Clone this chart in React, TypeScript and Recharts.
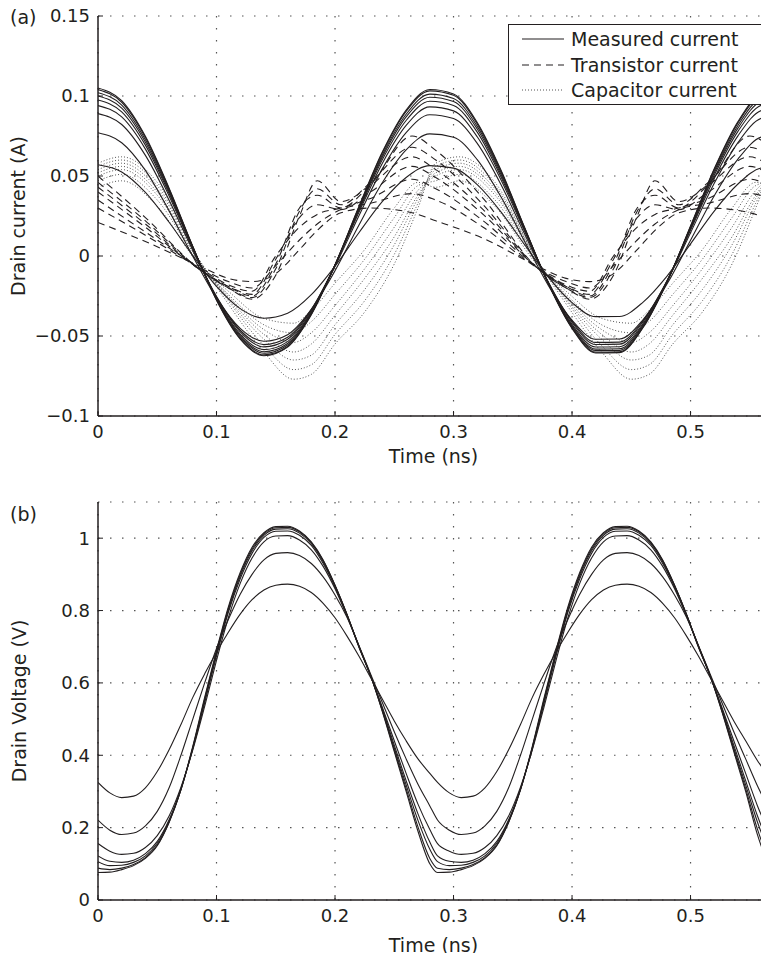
import React from 'react';
import { LineChart, Line, XAxis, YAxis, CartesianGrid, Label } from 'recharts';

const INK = '#231f20';
const FONT = '"DejaVu Sans", Verdana, sans-serif';

// ---- (a) drain current ----
const timeMeasured = [0, 0.02, 0.04, 0.06, 0.08, 0.1, 0.12, 0.14, 0.16, 0.18, 0.2, 0.22, 0.24, 0.26, 0.28, 0.3, 0.32, 0.34, 0.36, 0.38, 0.4, 0.42, 0.44, 0.46, 0.48, 0.5, 0.52, 0.54, 0.56, 0.58];

const measured1 = [0.105, 0.0971, 0.0748, 0.0424, 0.006, -0.0276, -0.0519, -0.0623, -0.0569, -0.0367, -0.0056, 0.0306, 0.0651, 0.0912, 0.1041, 0.1013, 0.0834, 0.0537, 0.0178, -0.0174, -0.0453, -0.0606, -0.0604, -0.0447, -0.0166, 0.0187, 0.0545, 0.084, 0.1016, 0.104];
const measured2 = [0.104, 0.0961, 0.0741, 0.0419, 0.0058, -0.0274, -0.0515, -0.0618, -0.0565, -0.0364, -0.0056, 0.0303, 0.0645, 0.0904, 0.1032, 0.1004, 0.0826, 0.0531, 0.0176, -0.0173, -0.0449, -0.0601, -0.0599, -0.0444, -0.0165, 0.0185, 0.054, 0.0832, 0.1006, 0.103];
const measured3 = [0.102, 0.0943, 0.0726, 0.0411, 0.0056, -0.027, -0.0506, -0.0608, -0.0556, -0.0359, -0.0056, 0.0296, 0.0632, 0.0886, 0.1012, 0.0984, 0.081, 0.0521, 0.0172, -0.0171, -0.0443, -0.0591, -0.059, -0.0437, -0.0163, 0.018, 0.0529, 0.0816, 0.0987, 0.101];
const measured4 = [0.1, 0.0924, 0.0711, 0.0402, 0.0054, -0.0266, -0.0498, -0.0598, -0.0547, -0.0354, -0.0056, 0.029, 0.0619, 0.0869, 0.0992, 0.0965, 0.0794, 0.051, 0.0167, -0.0169, -0.0436, -0.0582, -0.058, -0.043, -0.0162, 0.0176, 0.0518, 0.0799, 0.0968, 0.0991];
const measured5 = [0.0975, 0.0901, 0.0693, 0.0391, 0.0051, -0.0261, -0.0488, -0.0585, -0.0535, -0.0347, -0.0056, 0.0282, 0.0603, 0.0847, 0.0967, 0.0941, 0.0774, 0.0496, 0.0162, -0.0166, -0.0427, -0.0569, -0.0567, -0.0421, -0.0159, 0.017, 0.0504, 0.0779, 0.0943, 0.0966];
const measured6 = [0.094, 0.0869, 0.0668, 0.0375, 0.0047, -0.0255, -0.0474, -0.0568, -0.052, -0.0338, -0.0057, 0.027, 0.058, 0.0816, 0.0932, 0.0907, 0.0745, 0.0477, 0.0154, -0.0163, -0.0415, -0.0553, -0.0551, -0.041, -0.0156, 0.0162, 0.0485, 0.0751, 0.091, 0.0931];
const measured7 = [0.089, 0.0822, 0.0629, 0.0349, 0.0035, -0.0254, -0.0464, -0.0554, -0.0508, -0.0333, -0.0065, 0.0248, 0.0546, 0.0771, 0.0883, 0.0859, 0.0704, 0.0447, 0.0137, -0.0167, -0.0407, -0.054, -0.0538, -0.0403, -0.016, 0.0145, 0.0454, 0.0709, 0.0861, 0.0882];
const measured8 = [0.077, 0.0708, 0.0535, 0.0282, -0.0002, -0.0263, -0.0452, -0.0533, -0.0492, -0.0334, -0.0092, 0.0191, 0.0459, 0.0663, 0.0763, 0.0742, 0.0602, 0.037, 0.0091, -0.0184, -0.0401, -0.052, -0.0519, -0.0397, -0.0177, 0.0098, 0.0377, 0.0606, 0.0744, 0.0762];
const measured9 = [0.057, 0.0525, 0.0397, 0.0211, 0.0002, -0.019, -0.0329, -0.0389, -0.0358, -0.0242, -0.0064, 0.0144, 0.0341, 0.0491, 0.0565, 0.0549, 0.0446, 0.0276, 0.007, -0.0132, -0.0291, -0.0379, -0.0378, -0.0288, -0.0127, 0.0076, 0.0281, 0.045, 0.0551, 0.0564];

const timeTransistor = [0, 0.04, 0.085, 0.11, 0.13, 0.15, 0.17, 0.185, 0.205, 0.23, 0.265, 0.285, 0.325, 0.37, 0.395, 0.415, 0.435, 0.455, 0.47, 0.49, 0.515, 0.55, 0.57];

const transistor1 = [0.05, 0.024, -0.008, -0.02, -0.027, -0.012, 0.025, 0.047, 0.034, 0.045, 0.075, 0.066, 0.036, -0.007, -0.02, -0.027, -0.012, 0.025, 0.047, 0.034, 0.045, 0.075, 0.066];
const transistor2 = [0.046, 0.022, -0.008, -0.02, -0.026, -0.008, 0.028, 0.042, 0.032, 0.046, 0.068, 0.06, 0.032, -0.007, -0.02, -0.026, -0.008, 0.028, 0.042, 0.032, 0.046, 0.068, 0.06];
const transistor3 = [0.043, 0.02, -0.008, -0.019, -0.025, -0.005, 0.03, 0.038, 0.03, 0.044, 0.062, 0.054, 0.029, -0.007, -0.019, -0.025, -0.005, 0.03, 0.038, 0.03, 0.044, 0.062, 0.054];
const transistor4 = [0.04, 0.018, -0.008, -0.019, -0.024, -0.002, 0.024, 0.032, 0.029, 0.04, 0.056, 0.049, 0.026, -0.007, -0.019, -0.024, -0.002, 0.024, 0.032, 0.029, 0.04, 0.056, 0.049];
const transistor5 = [0.035, 0.015, -0.007, -0.018, -0.022, 0.0, 0.018, 0.026, 0.03, 0.036, 0.048, 0.042, 0.022, -0.007, -0.018, -0.022, 0.0, 0.018, 0.026, 0.03, 0.036, 0.048, 0.042];
const transistor6 = [0.03, 0.013, -0.007, -0.016, -0.02, -0.006, 0.01, 0.02, 0.029, 0.033, 0.039, 0.035, 0.018, -0.007, -0.016, -0.02, -0.006, 0.01, 0.02, 0.029, 0.033, 0.039, 0.035];
const transistor7 = [0.021, 0.009, -0.006, -0.014, -0.016, -0.011, 0.004, 0.016, 0.027, 0.03, 0.027, 0.022, 0.011, -0.006, -0.014, -0.016, -0.011, 0.004, 0.016, 0.027, 0.03, 0.027, 0.022];

const timeCapacitor = [0, 0.02, 0.05, 0.085, 0.11, 0.14, 0.165, 0.18, 0.2, 0.225, 0.25, 0.27, 0.285, 0.305, 0.335, 0.37, 0.395, 0.425, 0.45, 0.465, 0.485, 0.51, 0.535, 0.555, 0.57];

const capacitor1 = [0.058, 0.062, 0.046, -0.002, -0.03, -0.06, -0.077, -0.074, -0.055, -0.035, -0.005, 0.03, 0.058, 0.062, 0.046, -0.002, -0.03, -0.06, -0.077, -0.074, -0.055, -0.035, -0.005, 0.03, 0.058];
const capacitor2 = [0.056, 0.06, 0.044, -0.002, -0.028, -0.056, -0.071, -0.068, -0.049, -0.028, 0.001, 0.033, 0.056, 0.06, 0.044, -0.002, -0.028, -0.056, -0.071, -0.068, -0.049, -0.028, 0.001, 0.033, 0.056];
const capacitor3 = [0.054, 0.058, 0.042, -0.002, -0.027, -0.052, -0.065, -0.062, -0.043, -0.021, 0.007, 0.036, 0.054, 0.058, 0.042, -0.002, -0.027, -0.052, -0.065, -0.062, -0.043, -0.021, 0.007, 0.036, 0.054];
const capacitor4 = [0.052, 0.056, 0.04, -0.003, -0.026, -0.049, -0.06, -0.055, -0.037, -0.014, 0.012, 0.038, 0.052, 0.056, 0.04, -0.003, -0.026, -0.049, -0.06, -0.055, -0.037, -0.014, 0.012, 0.038, 0.052];
const capacitor5 = [0.05, 0.054, 0.038, -0.003, -0.025, -0.046, -0.054, -0.048, -0.031, -0.008, 0.018, 0.041, 0.05, 0.054, 0.038, -0.003, -0.025, -0.046, -0.054, -0.048, -0.031, -0.008, 0.018, 0.041, 0.05];
const capacitor6 = [0.047, 0.051, 0.035, -0.004, -0.024, -0.043, -0.048, -0.041, -0.024, -0.002, 0.024, 0.044, 0.047, 0.051, 0.035, -0.004, -0.024, -0.043, -0.048, -0.041, -0.024, -0.002, 0.024, 0.044, 0.047];
const capacitor7 = [0.043, 0.047, 0.031, -0.005, -0.022, -0.039, -0.042, -0.034, -0.017, 0.004, 0.03, 0.046, 0.043, 0.047, 0.031, -0.005, -0.022, -0.039, -0.042, -0.034, -0.017, 0.004, 0.03, 0.046, 0.043];

// ---- (b) drain voltage ----
const timeVoltage = [
  0, 0.01, 0.02, 0.03, 0.04, 0.05, 0.06, 0.07, 0.08, 0.09, 0.1, 0.11, 0.12, 0.13, 0.14, 0.15, 0.16, 0.17, 0.18, 0.19, 0.2, 0.21, 0.22, 0.23, 0.24, 0.25, 0.26, 0.27, 0.28,
  0.2865, 0.2965, 0.3065, 0.3165, 0.3265, 0.3365, 0.3465, 0.3565, 0.3665, 0.3765, 0.3865, 0.3965, 0.4065, 0.4165, 0.4265, 0.4365, 0.4465, 0.4565, 0.4665, 0.4765, 0.4865, 0.4965, 0.5065, 0.5165, 0.5265, 0.5365, 0.5465, 0.5565, 0.5665,
];

const voltage1 = [
  0.076, 0.077, 0.084, 0.095, 0.115, 0.15, 0.215, 0.305, 0.425, 0.56, 0.69, 0.81, 0.905, 0.975, 1.015, 1.032, 1.033, 1.02, 0.99, 0.94, 0.87, 0.79, 0.7, 0.62, 0.52, 0.41, 0.3, 0.19, 0.1,
  0.076, 0.077, 0.084, 0.095, 0.115, 0.15, 0.215, 0.305, 0.425, 0.56, 0.69, 0.81, 0.905, 0.975, 1.015, 1.032, 1.033, 1.02, 0.99, 0.94, 0.87, 0.79, 0.7, 0.62, 0.52, 0.41, 0.3, 0.18, 0.09,
];
const voltage2 = [
  0.088, 0.084, 0.088, 0.098, 0.117, 0.152, 0.215, 0.305, 0.422, 0.555, 0.685, 0.805, 0.9, 0.97, 1.012, 1.029, 1.03, 1.018, 0.988, 0.938, 0.87, 0.79, 0.702, 0.62, 0.522, 0.415, 0.308, 0.202, 0.115,
  0.088, 0.084, 0.088, 0.098, 0.117, 0.152, 0.215, 0.305, 0.422, 0.555, 0.685, 0.805, 0.9, 0.97, 1.012, 1.029, 1.03, 1.018, 0.988, 0.938, 0.87, 0.79, 0.702, 0.62, 0.522, 0.415, 0.308, 0.195, 0.105,
];
const voltage3 = [
  0.106, 0.095, 0.096, 0.104, 0.122, 0.157, 0.218, 0.305, 0.42, 0.55, 0.68, 0.8, 0.895, 0.965, 1.008, 1.025, 1.026, 1.014, 0.985, 0.935, 0.868, 0.79, 0.703, 0.62, 0.525, 0.42, 0.318, 0.22, 0.14,
  0.106, 0.095, 0.096, 0.104, 0.122, 0.157, 0.218, 0.305, 0.42, 0.55, 0.68, 0.8, 0.895, 0.965, 1.008, 1.025, 1.026, 1.014, 0.985, 0.935, 0.868, 0.79, 0.703, 0.62, 0.525, 0.42, 0.318, 0.215, 0.13,
];
const voltage4 = [
  0.122, 0.107, 0.104, 0.11, 0.128, 0.162, 0.222, 0.308, 0.418, 0.545, 0.675, 0.795, 0.888, 0.958, 1.002, 1.019, 1.02, 1.008, 0.98, 0.93, 0.865, 0.788, 0.703, 0.62, 0.528, 0.428, 0.33, 0.238, 0.16,
  0.122, 0.107, 0.104, 0.11, 0.128, 0.162, 0.222, 0.308, 0.418, 0.545, 0.675, 0.795, 0.888, 0.958, 1.002, 1.019, 1.02, 1.008, 0.98, 0.93, 0.865, 0.788, 0.703, 0.62, 0.528, 0.428, 0.33, 0.232, 0.15,
];
const voltage5 = [
  0.156, 0.135, 0.126, 0.129, 0.145, 0.178, 0.232, 0.312, 0.415, 0.535, 0.662, 0.78, 0.875, 0.945, 0.99, 1.006, 1.007, 0.995, 0.968, 0.922, 0.86, 0.785, 0.703, 0.62, 0.532, 0.44, 0.35, 0.265, 0.195,
  0.156, 0.135, 0.126, 0.129, 0.145, 0.178, 0.232, 0.312, 0.415, 0.535, 0.662, 0.78, 0.875, 0.945, 0.99, 1.006, 1.007, 0.995, 0.968, 0.922, 0.86, 0.785, 0.703, 0.62, 0.532, 0.44, 0.35, 0.26, 0.185,
];
const voltage6 = [
  0.221, 0.193, 0.181, 0.185, 0.205, 0.245, 0.31, 0.4, 0.5, 0.6, 0.695, 0.775, 0.845, 0.9, 0.94, 0.958, 0.96, 0.952, 0.93, 0.893, 0.843, 0.782, 0.705, 0.625, 0.545, 0.465, 0.39, 0.32, 0.26,
  0.221, 0.193, 0.181, 0.185, 0.205, 0.245, 0.31, 0.4, 0.5, 0.6, 0.695, 0.775, 0.845, 0.9, 0.94, 0.958, 0.96, 0.952, 0.93, 0.893, 0.843, 0.782, 0.705, 0.625, 0.545, 0.465, 0.39, 0.315, 0.25,
];
const voltage7 = [
  0.325, 0.296, 0.283, 0.287, 0.31, 0.355, 0.415, 0.485, 0.56, 0.625, 0.685, 0.74, 0.79, 0.83, 0.857, 0.87, 0.873, 0.867, 0.85, 0.82, 0.78, 0.73, 0.675, 0.615, 0.555, 0.495, 0.44, 0.39, 0.35,
  0.325, 0.296, 0.283, 0.287, 0.31, 0.355, 0.415, 0.485, 0.56, 0.625, 0.685, 0.74, 0.79, 0.83, 0.857, 0.87, 0.873, 0.867, 0.85, 0.82, 0.78, 0.73, 0.675, 0.615, 0.555, 0.495, 0.44, 0.385, 0.34,
];

const timeTicks = [0, 0.1, 0.2, 0.3, 0.4, 0.5];
const currentTicks = [-0.1, -0.05, 0, 0.05, 0.1, 0.15];
const voltageTicks = [0, 0.2, 0.4, 0.6, 0.8, 1];
const timeEnd = 0.5662;

const toSeries = (ts: number[], vs: number[]) => ts.map((t, i) => ({ t, v: vs[i] }));

const measuredSeries = [measured1, measured2, measured3, measured4, measured5, measured6, measured7, measured8, measured9].map((v) => toSeries(timeMeasured, v));
const transistorSeries = [transistor1, transistor2, transistor3, transistor4, transistor5, transistor6, transistor7].map((v) => toSeries(timeTransistor, v));
const capacitorSeries = [capacitor1, capacitor2, capacitor3, capacitor4, capacitor5, capacitor6, capacitor7].map((v) => toSeries(timeCapacitor, v));
const voltageSeries = [voltage1, voltage2, voltage3, voltage4, voltage5, voltage6, voltage7].map((v) => toSeries(timeVoltage, v));

const fmtSigned = (v: number) => (v === 0 ? '0' : v < 0 ? '\u2212' + String(-v) : String(v));

const tickStyle = { fill: INK, fontSize: 18, fontFamily: FONT };
const labelStyle = { fill: INK, fontSize: 19, fontFamily: FONT, textAnchor: 'middle' as const };

const Legend = () => {
  const rows = [
    { name: 'Measured current', dash: undefined, color: INK },
    { name: 'Transistor current', dash: '7 5', color: INK },
    { name: 'Capacitor current', dash: '1 2', color: '#555' },
  ];
  return (
    <div
      style={{
        position: 'absolute', left: 500, top: 24, width: 259, height: 81,
        border: `1px solid ${INK}`, background: '#fff', boxSizing: 'border-box',
      }}
    >
      {rows.map((r, i) => (
        <div key={r.name} style={{ position: 'absolute', left: 0, top: 1 + i * 25.5, height: 26, width: 257 }}>
          <svg width={60} height={26} style={{ position: 'absolute', left: 0, top: 0 }}>
            <line x1={13} x2={55} y1={13} y2={13} stroke={r.color} strokeWidth={1.2} strokeDasharray={r.dash} />
          </svg>
          <span style={{ position: 'absolute', left: 62, top: 0, fontSize: 19, lineHeight: '26px', color: INK, whiteSpace: 'nowrap' }}>
            {r.name}
          </span>
        </div>
      ))}
    </div>
  );
};

// negative margins cancel the body margin vertically so the figure uses the full page height
const App = () => (
  <div style={{ position: 'relative', width: 761, height: 961, marginTop: -8, marginBottom: -8, overflow: 'hidden', fontFamily: FONT, color: INK }}>
    <LineChart width={761} height={468} margin={{ top: 16, right: 0, bottom: 0, left: 0 }}>
      <CartesianGrid stroke="#555" strokeWidth={1.2} strokeDasharray="1.5 10.5" />
      <XAxis
        dataKey="t" type="number" domain={[0, timeEnd]} ticks={timeTicks} interval={0} allowDataOverflow
        height={52} tickSize={-5} tickMargin={14.5} tick={tickStyle}
        axisLine={{ stroke: INK, strokeWidth: 1.5 }} tickLine={{ stroke: INK }}
      >
        <Label value="Time (ns)" position="insideBottom" offset={5} style={labelStyle} />
      </XAxis>
      <XAxis
        xAxisId="top" orientation="top" type="number" domain={[0, timeEnd]} ticks={timeTicks} interval={0}
        height={0} tickSize={-5} tickFormatter={() => ''} axisLine={{ stroke: INK, strokeWidth: 1.5 }} tickLine={{ stroke: INK }}
      />
      <YAxis
        type="number" domain={[-0.1, 0.15]} ticks={currentTicks} interval={0} allowDataOverflow width={90}
        tickSize={-5} tickMargin={13} tick={tickStyle} tickFormatter={fmtSigned}
        axisLine={{ stroke: INK, strokeWidth: 1.5 }} tickLine={{ stroke: INK }}
      >
        <Label value="Drain current (A)" angle={-90} position="insideLeft" offset={10} style={labelStyle} />
      </YAxis>
      {capacitorSeries.map((d, i) => (
        <Line key={`c${i}`} data={d} dataKey="v" type="monotone" stroke="#555" strokeWidth={1} strokeDasharray="1 2" dot={false} isAnimationActive={false} />
      ))}
      {transistorSeries.map((d, i) => (
        <Line key={`d${i}`} data={d} dataKey="v" type="monotone" stroke={INK} strokeWidth={1.1} strokeDasharray="7 5" dot={false} isAnimationActive={false} />
      ))}
      {measuredSeries.map((d, i) => (
        <Line key={`m${i}`} data={d} dataKey="v" type="monotone" stroke={INK} strokeWidth={1.1} dot={false} isAnimationActive={false} />
      ))}
    </LineChart>

    <LineChart width={761} height={493} margin={{ top: 34, right: 0, bottom: 0, left: 0 }}>
      <CartesianGrid stroke="#555" strokeWidth={1.2} strokeDasharray="1.5 10.5" />
      <XAxis
        dataKey="t" type="number" domain={[0, timeEnd]} ticks={timeTicks} interval={0} allowDataOverflow
        height={61} tickSize={-5} tickMargin={14.5} tick={tickStyle}
        axisLine={{ stroke: INK, strokeWidth: 1.5 }} tickLine={{ stroke: INK }}
      >
        <Label value="Time (ns)" position="insideBottom" offset={9} style={labelStyle} />
      </XAxis>
      <XAxis
        xAxisId="top" orientation="top" type="number" domain={[0, timeEnd]} ticks={timeTicks} interval={0}
        height={0} tickSize={-5} tickFormatter={() => ''} axisLine={{ stroke: INK, strokeWidth: 1.5 }} tickLine={{ stroke: INK }}
      />
      <YAxis
        type="number" domain={[0, 1.1]} ticks={voltageTicks} interval={0} allowDataOverflow width={90}
        tickSize={-5} tickMargin={13} tick={tickStyle}
        axisLine={{ stroke: INK, strokeWidth: 1.5 }} tickLine={{ stroke: INK }}
      >
        <Label value="Drain Voltage (V)" angle={-90} position="insideLeft" offset={11} style={labelStyle} />
      </YAxis>
      {voltageSeries.map((d, i) => (
        <Line key={`v${i}`} data={d} dataKey="v" type="monotone" stroke={INK} strokeWidth={1.1} dot={false} isAnimationActive={false} />
      ))}
    </LineChart>

    <div style={{ position: 'absolute', left: 2, top: 8, fontSize: 19, lineHeight: '19px' }}>(a)</div>
    <div style={{ position: 'absolute', left: 2, top: 505, fontSize: 19, lineHeight: '19px' }}>(b)</div>
    <Legend />
  </div>
);

export default App;
